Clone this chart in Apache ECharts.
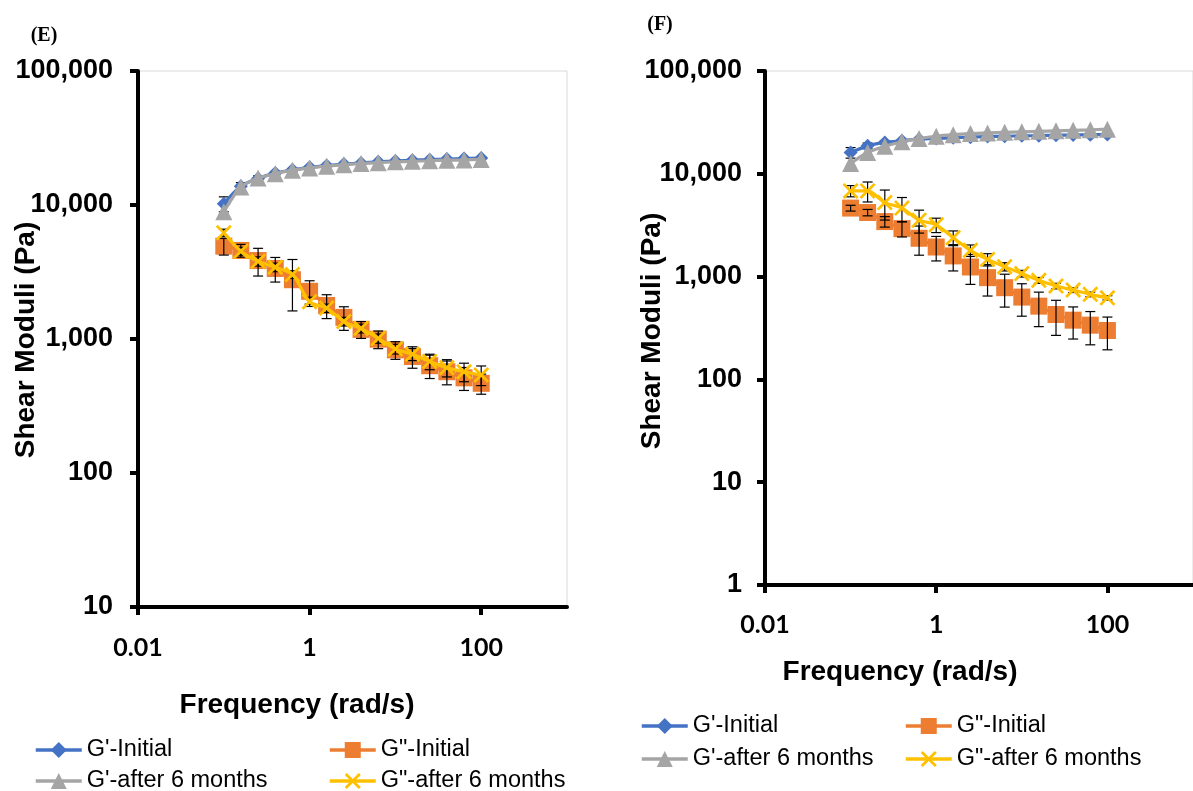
<!DOCTYPE html>
<html><head><meta charset="utf-8">
<script src="https://cdn.jsdelivr.net/npm/echarts@6/dist/echarts.min.js"></script>
<style>html,body{margin:0;padding:0;background:#fff}#c{width:1193px;height:791px}</style>
</head><body><div id="c"></div>
<script>
// ---- data ----
const freq = [0.1, 0.158, 0.251, 0.398, 0.631, 1, 1.58, 2.51, 3.98, 6.31, 10, 15.8, 25.1, 39.8, 63.1, 100];
const xTicks = [0.01, 1, 100];
const yTicksE = [10, 100, 1000, 10000, 100000];
const yTicksF = [1, 10, 100, 1000, 10000, 100000];
const seriesNames = ["G'-Initial", 'G"-Initial', "G'-after 6 months", 'G"-after 6 months'];

// Panel E
const E_Gp_init      = [10200, 13800, 15800, 17300, 18300, 19100, 19700, 20200, 20600, 21000, 21300, 21600, 21800, 22000, 22200, 22400];
const E_Gp_init_sd   = [1300, 900, 700, 500, 400, 400, 300, 300, 300, 300, 300, 300, 300, 300, 300, 300];
const E_Gp_after     = [8900, 13600, 15900, 17100, 18200, 18900, 19500, 20000, 20400, 20700, 21000, 21200, 21400, 21600, 21700, 21900];
const E_Gpp_init     = [4930, 4580, 3850, 3360, 2770, 2270, 1780, 1450, 1180, 997, 830, 740, 632, 570, 513, 467];
const E_Gpp_init_sd  = [700, 500, 900, 700, 1150, 450, 360, 290, 170, 150, 125, 135, 125, 115, 100, 80];
const E_Gpp_after    = [6200, 4520, 3800, 3430, 3030, 1900, 1700, 1350, 1200, 1010, 843, 770, 680, 611, 570, 539];
const E_Gpp_after_sd = [400, 300, 300, 250, 200, 150, 120, 100, 90, 80, 70, 80, 90, 90, 90, 90];

// Panel F
const F_Gp_init      = [16100, 18700, 20200, 21000, 21700, 22100, 22400, 22700, 23000, 23200, 23400, 23500, 23700, 23800, 24000, 24100];
const F_Gp_init_sd   = [1900, 1200, 800, 500, 400, 400, 400, 400, 400, 400, 400, 400, 400, 400, 400, 400];
const F_Gp_after     = [12600, 16100, 18500, 20500, 22000, 23200, 24000, 24600, 25000, 25300, 25600, 25900, 26200, 26500, 26800, 27200];
const F_Gpp_init     = [4640, 4200, 3430, 2930, 2360, 1940, 1590, 1240, 977, 780, 632, 516, 428, 377, 337, 299];
const F_Gpp_init_sd  = [300, 300, 400, 500, 745, 520, 455, 400, 330, 275, 220, 190, 160, 130, 120, 105];
const F_Gpp_after    = [6820, 6820, 5250, 4640, 3540, 3190, 2390, 1800, 1470, 1250, 1070, 920, 810, 740, 672, 622];
const F_Gpp_after_sd = [850, 1500, 1700, 1240, 890, 510, 390, 230, 200, 115, 80, 60, 50, 40, 35, 30];

// ---- styling / helpers ----
const COL = ['#4472C4', '#ED7D31', '#A5A5A5', '#FFC000'];
const XMARK = 'path://M0,1.2L1.2,0L5,3.8L8.8,0L10,1.2L6.2,5L10,8.8L8.8,10L5,6.2L1.2,10L0,8.8L3.8,5Z';
const SYM = ['diamond', 'rect', 'triangle', XMARK];
const SYMSIZE = [14, 17, 17, 16];
const ZS = [3, 4, 6, 7];

function lineSeries(k, vals, gi) {
  return {
    type: 'line', name: seriesNames[k], xAxisIndex: gi, yAxisIndex: gi,
    data: freq.map((f, i) => [f, vals[i]]),
    symbol: SYM[k], symbolSize: SYMSIZE[k], smooth: 0.3, showAllSymbol: true,
    lineStyle: { color: COL[k], width: 3.2 }, itemStyle: { color: COL[k] },
    z: ZS[k], animation: false
  };
}
function errSeries(vals, sds, gi, z) {
  return {
    type: 'custom', xAxisIndex: gi, yAxisIndex: gi, z: z, silent: true, animation: false,
    data: freq.map((f, i) => [f, vals[i] - sds[i], vals[i] + sds[i]]),
    encode: { x: 0, y: [1, 2] },
    renderItem: function (params, api) {
      const x = api.value(0);
      const pHi = api.coord([x, api.value(2)]);
      const pLo = api.coord([x, api.value(1)]);
      const w = 5;
      const st = { stroke: '#000', lineWidth: 1.2 };
      return {
        type: 'group', children: [
          { type: 'line', shape: { x1: pHi[0], y1: pHi[1], x2: pLo[0], y2: pLo[1] }, style: st },
          { type: 'line', shape: { x1: pHi[0] - w, y1: pHi[1], x2: pHi[0] + w, y2: pHi[1] }, style: st },
          { type: 'line', shape: { x1: pLo[0] - w, y1: pLo[1], x2: pLo[0] + w, y2: pLo[1] }, style: st }
        ]
      };
    }
  };
}
const fmtX = v => (v >= 1 ? String(Math.round(v)) : String(Number(v.toPrecision(2))));
const fmtY = v => Math.round(v).toLocaleString('en-US');

function xAxis(gi, margin) {
  return {
    type: 'log', logBase: 10, gridIndex: gi, min: 0.01, max: 1000,
    axisLine: { show: true, onZero: false, lineStyle: { color: '#000', width: 4 } },
    axisTick: { show: true, inside: false, length: 8, lineStyle: { color: '#000', width: 4 }, customValues: xTicks },
    axisLabel: { customValues: xTicks, formatter: fmtX, margin: margin, fontSize: 25, fontWeight: 'bold', fontFamily: 'Lato', color: '#000' },
    splitLine: { show: false }, minorTick: { show: false }
  };
}
function yAxis(gi, ticks, margin) {
  return {
    type: 'log', logBase: 10, gridIndex: gi, min: ticks[0], max: ticks[ticks.length - 1],
    axisLine: { show: true, onZero: false, lineStyle: { color: '#000', width: 4 } },
    axisTick: { show: true, inside: false, length: 8, lineStyle: { color: '#000', width: 4 }, customValues: ticks },
    axisLabel: { customValues: ticks, formatter: fmtY, margin: margin, fontSize: 27, fontWeight: 'bold', fontFamily: 'Liberation Sans', color: '#000' },
    splitLine: { show: false }, minorTick: { show: false }
  };
}
function legendItem(name, left, top) {
  return {
    data: [name], left: left, top: top, padding: 0, itemWidth: 46, itemHeight: 20, itemGap: 0,
    lineStyle: { width: 3.5 },
    textStyle: { fontSize: 23.5, fontFamily: 'Liberation Sans', color: '#000' },
    selectedMode: false
  };
}
function txt(text, x, y, size, opts) {
  return Object.assign({
    type: 'text', x: x, y: y, silent: true,
    style: { text: text, fontSize: size, fontWeight: 'bold', fontFamily: 'Liberation Sans', fill: '#000', align: 'center', verticalAlign: 'middle' }
  }, opts || {});
}
function serifLabel(text, x, y) {
  return {
    type: 'text', x: x, y: y, silent: true,
    style: { text: text, fontSize: 20, fontWeight: 'bold', fontFamily: 'Liberation Serif', fill: '#000', align: 'center', verticalAlign: 'middle' }
  };
}

const chart = echarts.init(document.getElementById('c'), null, { renderer: 'canvas' });
chart.setOption({
  backgroundColor: '#fff',
  animation: false,
  grid: [
    { left: 138, top: 71, width: 429, height: 536, show: true, borderColor: '#D9D9D9', borderWidth: 1, backgroundColor: 'transparent' },
    { left: 765, top: 71, width: 435, height: 514, show: true, borderColor: '#D9D9D9', borderWidth: 1, backgroundColor: 'transparent' }
  ],
  xAxis: [xAxis(0, 28), xAxis(1, 27)],
  yAxis: [yAxis(0, yTicksE, 25), yAxis(1, yTicksF, 23)],
  legend: [
    legendItem(seriesNames[0], 34, 738), legendItem(seriesNames[1], 328, 738),
    legendItem(seriesNames[2], 34, 769), legendItem(seriesNames[3], 328, 769),
    legendItem(seriesNames[0], 640, 714), legendItem(seriesNames[1], 904, 714),
    legendItem(seriesNames[2], 640, 747), legendItem(seriesNames[3], 904, 747)
  ],
  graphic: [
    serifLabel('(E)', 44, 36),
    serifLabel('(F)', 660, 25),
    txt('Frequency (rad/s)', 297, 705, 28),
    txt('Frequency (rad/s)', 900, 672, 28),
    txt('Shear Moduli (Pa)', 26, 340, 28, { rotation: Math.PI / 2 }),
    txt('Shear Moduli (Pa)', 652, 331, 28, { rotation: Math.PI / 2 })
  ],
  series: [
    lineSeries(0, E_Gp_init, 0),
    errSeries(E_Gp_init, E_Gp_init_sd, 0, 2),
    lineSeries(1, E_Gpp_init, 0),
    errSeries(E_Gpp_init, E_Gpp_init_sd, 0, 5),
    lineSeries(2, E_Gp_after, 0),
    lineSeries(3, E_Gpp_after, 0),
    errSeries(E_Gpp_after, E_Gpp_after_sd, 0, 5),

    lineSeries(0, F_Gp_init, 1),
    errSeries(F_Gp_init, F_Gp_init_sd, 1, 2),
    lineSeries(1, F_Gpp_init, 1),
    errSeries(F_Gpp_init, F_Gpp_init_sd, 1, 5),
    lineSeries(2, F_Gp_after, 1),
    lineSeries(3, F_Gpp_after, 1),
    errSeries(F_Gpp_after, F_Gpp_after_sd, 1, 5)
  ]
});
</script>
</body></html>
